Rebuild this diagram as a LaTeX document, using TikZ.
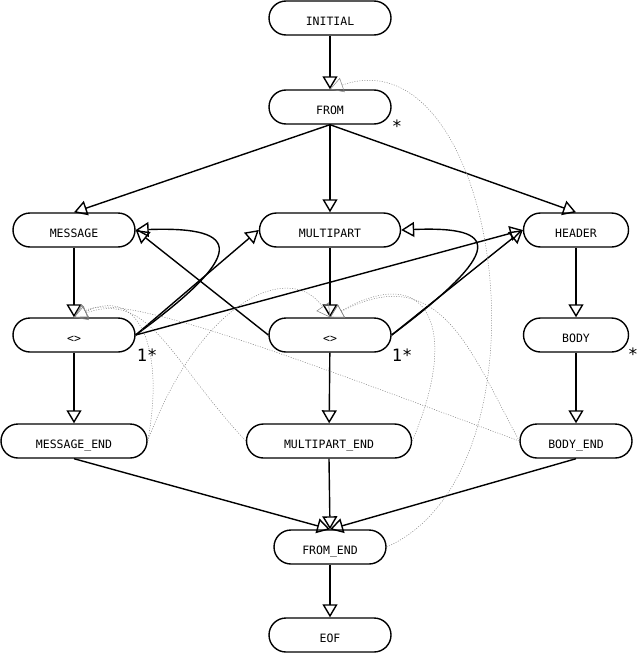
\documentclass[tikz,border=0pt]{standalone}
\usepackage{fontspec}
\usetikzlibrary{arrows.meta}
\newfontfamily\statefont{DejaVu Sans Mono}

\begin{document}
\begin{tikzpicture}[
  x=1pt, y=-1pt,
  >={Triangle[open,length=13pt,width=15pt]},
  st/.style={draw, line width=1.4pt, fill=white, rounded corners=17pt,
             minimum height=34pt, inner sep=0pt, text height=14.5pt, text depth=0pt,
             font=\statefont\fontsize{11.5}{13}\selectfont},
  fwd/.style={->, line width=1.4pt},
  back/.style={->, draw=gray, line width=0.5pt, dash pattern=on 1pt off 1.5pt},
  mult/.style={inner sep=0pt, font=\statefont\fontsize{17}{18}\selectfont}
]
\useasboundingbox (0,0) rectangle (640,653);

%% States
\foreach \nm/\x/\y/\w/\lab in {
  initial/330/18/122/INITIAL, from/330/107/122/FROM,
  message/74/230/122/MESSAGE, multipart/330/230/141/MULTIPART, header/576/230/105/HEADER,
  tone/74/335/122/<>, ttwo/330/335/122/<>, body/576/335/105/BODY,
  msgend/74/441/146/MESSAGE\_END, mpend/329/441/165/MULTIPART\_END, bodyend/576/441/112/BODY\_END,
  fromend/330/547/112/FROM\_END, eof/330/635/122/EOF}{
  \node[st, minimum width=\w pt] (\nm) at (\x,\y) {\lab};
}

%% Forward transitions
\draw[fwd] (initial) -- (from);
\foreach \t in {message, multipart, header}{
  \draw[fwd] (from.south) -- (\t.north);
}
\draw[fwd] (message) -- (tone);
\draw[fwd] (multipart) -- (ttwo);
\draw[fwd] (header) -- (body);
\draw[fwd] (tone) -- (msgend);
\draw[fwd] (ttwo) -- (mpend);
\draw[fwd] (body) -- (bodyend);
\foreach \s in {msgend, mpend, bodyend}{
  \draw[fwd] (\s.south) -- (fromend.north);
}
\draw[fwd] (fromend) -- (eof);

%% Boundary loops
\draw[fwd] (tone.east) .. controls (245,255) and (245,226) .. (message.east);
\draw[fwd] (tone.east) -- (multipart.west);
\draw[fwd] (tone.east) -- (header.west);
\draw[fwd] (ttwo.west) -- (message.east);
\draw[fwd] (ttwo.east) .. controls (505,250) and (500,226) .. (multipart.east);
\draw[fwd] (ttwo.east) -- (header.west);

%% Returns
\draw[back] (msgend.east) .. controls (165,350) and (140,285) .. (tone.north);
\draw[back] (mpend.west) .. controls (170,360) and (150,290) .. (tone.north);
\draw[back] (bodyend.west) .. controls (300,360) and (120,290) .. (tone.north);
\draw[back] (msgend.east) .. controls (200,300) and (290,260) .. (ttwo.north);
\draw[back] (mpend.east) .. controls (460,330) and (430,260) .. (ttwo.north);
\draw[back] (bodyend.west) .. controls (470,350) and (440,260) .. (ttwo.north);
\draw[back] (fromend.east) .. controls (560,470) and (500,30) .. (from.north);

%% Multiplicities
\node[mult] (fromstar) at (397,126) {*};
\node[mult] (tonemult) at (147,355) {1*};
\node[mult] (ttwomult) at (402,355) {1*};
\node[mult] (bodystar) at (633,354) {*};
\end{tikzpicture}
\end{document}
